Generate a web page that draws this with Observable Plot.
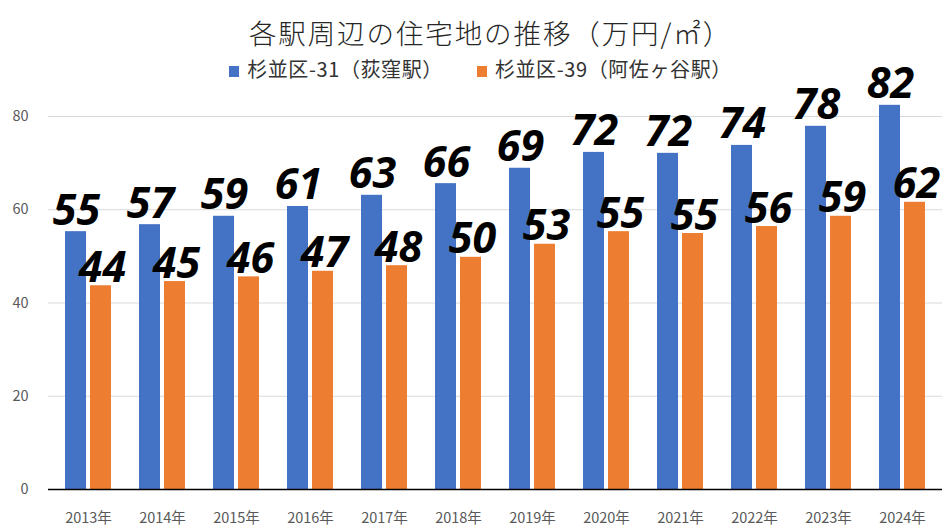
<!DOCTYPE html>
<html><head><meta charset="utf-8">
<script src="https://cdn.jsdelivr.net/npm/d3@7"></script>
<script src="https://cdn.jsdelivr.net/npm/@observablehq/plot@0.6"></script>
<style>
body{margin:0;background:#fff;}
#wrap{position:relative;width:945px;height:532px;overflow:hidden;}
#title{position:absolute;left:18px;top:13px;width:945px;text-align:center;font-family:"Noto Sans CJK JP";font-weight:300;font-size:27.5px;letter-spacing:1.9px;color:#262626;line-height:38px;}
#legend{position:absolute;left:8px;top:55px;width:945px;text-align:center;font-family:"Noto Sans CJK JP";font-size:20px;letter-spacing:0.6px;color:#333;line-height:28px;}
#legend span.sw{display:inline-block;width:10px;height:11px;margin-right:8px;vertical-align:0px;}
#legend span.item{margin:0 17px;}
</style></head>
<body><div id="wrap"></div>
<script>
const titleText = "各駅周辺の住宅地の推移（万円/㎡）";
const seriesNames = ["杉並区-31（荻窪駅）", "杉並区-39（阿佐ヶ谷駅）"];
const seriesColors = ["#4472C4", "#ED7D31"];
const years = ["2013年","2014年","2015年","2016年","2017年","2018年","2019年","2020年","2021年","2022年","2023年","2024年"];
const ogikubo = [55.3, 56.8, 58.6, 60.7, 63.1, 65.6, 68.9, 72.3, 72.1, 73.8, 77.9, 82.4];
const asagaya = [43.7, 44.6, 45.6, 46.8, 48.0, 49.8, 52.6, 55.3, 54.9, 56.4, 58.6, 61.6];
const yTicks = [0, 20, 40, 60, 80];

const dataA = years.map((y, i) => ({year: y, value: ogikubo[i]}));
const dataB = years.map((y, i) => ({year: y, value: asagaya[i]}));

const wrap = document.getElementById("wrap");
const chart = Plot.plot({
  width: 945, height: 532,
  marginTop: 116, marginBottom: 43, marginLeft: 48, marginRight: 3,
  style: {fontFamily: "'Noto Sans CJK JP'", fontSize: "14.5px", color: "#595959", background: "#fff"},
  x: {domain: years, paddingInner: 0.38, paddingOuter: 0.19, label: null, tickSize: 0, tickPadding: 23},
  y: {domain: [0, 80], ticks: yTicks, label: null, tickSize: 0, tickPadding: 20},
  marks: [
    Plot.ruleY(yTicks.filter(d => d > 0), {stroke: "#d9d9d9", strokeWidth: 1}),
    Plot.barY(dataA, {x: "year", y: "value", fill: seriesColors[0], insetRight: 25}),
    Plot.barY(dataB, {x: "year", y: "value", fill: seriesColors[1], insetLeft: 25}),
    Plot.ruleY([0], {stroke: "#000", strokeWidth: 1.5}),
    Plot.text(dataA, {x: "year", y: "value", text: d => String(Math.round(d.value)), dx: -12, dy: -7, lineAnchor: "bottom", fill: "#000", fontSize: 43, fontWeight: 700, fontStyle: "italic", fontFamily: "'Open Sans'"}),
    Plot.text(dataB, {x: "year", y: "value", text: d => String(Math.round(d.value)), dx: 14, dy: -4, lineAnchor: "bottom", fill: "#000", fontSize: 43, fontWeight: 700, fontStyle: "italic", fontFamily: "'Open Sans'"})
  ]
});
wrap.appendChild(chart);

const t = document.createElement("div");
t.id = "title"; t.textContent = titleText; wrap.appendChild(t);
const lg = document.createElement("div");
lg.id = "legend";
seriesNames.forEach((n, i) => {
  const it = document.createElement("span"); it.className = "item";
  const sw = document.createElement("span"); sw.className = "sw"; sw.style.background = seriesColors[i];
  it.appendChild(sw); it.appendChild(document.createTextNode(n));
  lg.appendChild(it);
});
wrap.appendChild(lg);
</script></body></html>
